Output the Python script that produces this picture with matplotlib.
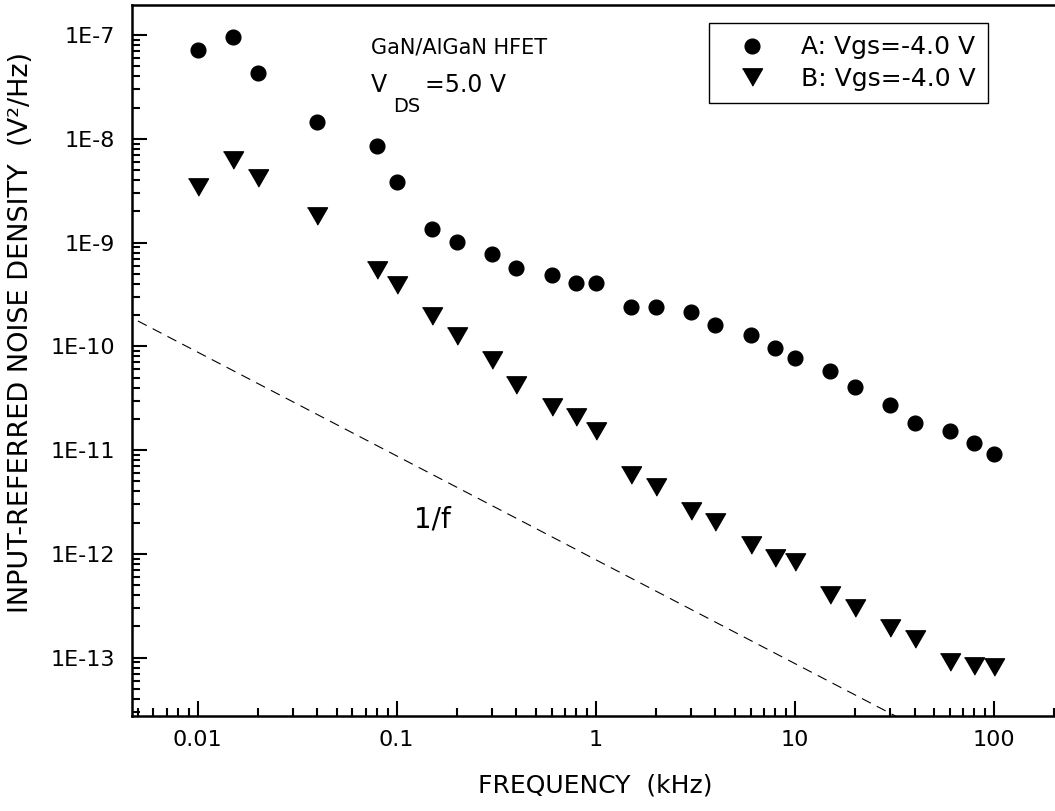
import numpy as np
import matplotlib
matplotlib.use("Agg")
import matplotlib.pyplot as plt

# frequency points (kHz), same set for both devices
freq = [0.01, 0.015, 0.02, 0.04, 0.08, 0.1, 0.15, 0.2, 0.3, 0.4, 0.6, 0.8, 1.0,
        1.5, 2, 3, 4, 6, 8, 10, 15, 20, 30, 40, 60, 80, 100]

# device A, Vgs=-4.0 V
noise_a = [7.2e-8, 9.6e-8, 4.3e-8, 1.44e-8, 8.5e-9, 3.8e-9, 1.36e-9, 1.02e-9, 7.7e-10,
           5.7e-10, 4.9e-10, 4.1e-10, 4.1e-10, 2.4e-10, 2.4e-10, 2.15e-10, 1.62e-10,
           1.29e-10, 9.7e-11, 7.7e-11, 5.75e-11, 4.1e-11, 2.7e-11, 1.83e-11, 1.53e-11,
           1.18e-11, 9.1e-12]

# device B, Vgs=-4.0 V
noise_b = [3.4e-9, 6.2e-9, 4.2e-9, 1.8e-9, 5.4e-10, 3.9e-10, 1.96e-10, 1.25e-10, 7.4e-11,
           4.2e-11, 2.6e-11, 2.07e-11, 1.52e-11, 5.7e-12, 4.4e-12, 2.6e-12, 2.03e-12,
           1.21e-12, 9.2e-13, 8.3e-13, 4.05e-13, 3.0e-13, 1.93e-13, 1.51e-13, 9.1e-14,
           8.3e-14, 8.1e-14]

# 1/f guide line: S = k / f
k_1f = 8.8e-13

x_ticks = [0.01, 0.1, 1, 10, 100]
x_labels = ["0.01", "0.1", "1", "10", "100"]
y_ticks = [1e-13, 1e-12, 1e-11, 1e-10, 1e-9, 1e-8, 1e-7]
y_labels = ["1E-13", "1E-12", "1E-11", "1E-10", "1E-9", "1E-8", "1E-7"]

plt.rcParams['font.family'] = ['DejaVu Sans']

fig = plt.figure(figsize=(10.55, 8.11), dpi=100)
ax = fig.add_axes([0.1251, 0.1171, 0.8776, 0.8767])
ax.set_xscale('log')
ax.set_yscale('log')

tri = [(-1, 0.866), (1, 0.866), (0, -0.866)]
ax.plot(freq, noise_a, linestyle='none', marker='o', ms=10.6, color='black',
        label='A: Vgs=-4.0 V')
ax.plot(freq, noise_b, linestyle='none', marker=tri, ms=14.4, color='black',
        label='B: Vgs=-4.0 V')

f_line = np.array([0.003, 400.0])
ax.plot(f_line, k_1f / f_line, color='black', lw=0.8, dashes=(9, 6))

ax.set_xlim(0.00468, 210)
ax.set_ylim(2.74e-14, 1.945e-7)

ax.set_xticks(x_ticks)
ax.set_xticklabels(x_labels)
ax.set_yticks(y_ticks)
ax.set_yticklabels(y_labels)

ax.tick_params(which='major', direction='in', length=10.8, width=1.5, labelsize=16)
ax.tick_params(which='minor', direction='in', length=6, width=1.5)
ax.tick_params(axis='x', which='major', pad=10)
ax.tick_params(axis='y', which='major', pad=12)

for s in ['left', 'bottom', 'top']:
    ax.spines[s].set_linewidth(1.8)
ax.spines['right'].set_visible(False)

ax.set_xlabel('FREQUENCY  (kHz)', fontsize=18, labelpad=17)
ax.set_ylabel('INPUT-REFERRED NOISE DENSITY  (V\u00b2/Hz)', fontsize=19.5)
ax.yaxis.set_label_coords(-0.106, 0.54)

# annotations
ax.text(0.258, 0.940, 'GaN/AlGaN HFET', transform=ax.transAxes, fontsize=15, va='center')
ax.text(0.258, 0.888, 'V', transform=ax.transAxes, fontsize=17, va='center')
ax.text(0.282, 0.857, 'DS', transform=ax.transAxes, fontsize=14, va='center')
ax.text(0.317, 0.888, '=5.0 V', transform=ax.transAxes, fontsize=17, va='center')
ax.text(0.305, 0.277, '1/f', transform=ax.transAxes, fontsize=20, va='center')

leg = ax.legend(loc='upper right', bbox_to_anchor=(0.925, 0.975), borderaxespad=0,
                fontsize=18, fancybox=False, edgecolor='black', framealpha=1,
                handletextpad=0.75, labelspacing=0.3, borderpad=0.5, handlelength=2.45)
leg.get_frame().set_linewidth(1.0)

fig.savefig('out.png', dpi=100)
